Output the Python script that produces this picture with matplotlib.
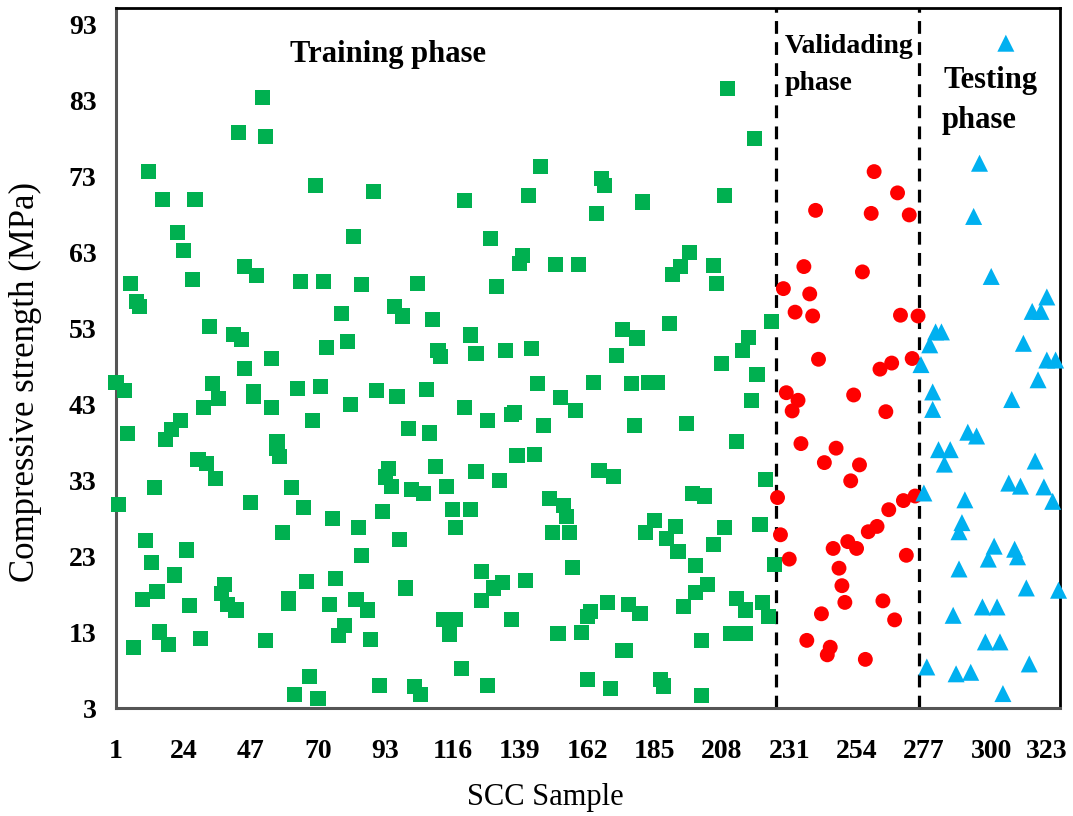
import matplotlib
matplotlib.use("Agg")
import matplotlib.pyplot as plt
import matplotlib.transforms as mtransforms

# ---------------- data ----------------
train_sample = [1, 2, 4, 5, 6, 7, 8, 9, 10, 11, 12, 13, 14, 15, 16,
                17, 18, 19, 20, 21, 22, 23, 24, 25, 26, 27, 28, 29, 30, 31,
                32, 33, 34, 35, 36, 37, 38, 39, 41, 42, 43, 44, 45, 45, 47,
                48, 48, 49, 51, 52, 52, 54, 54, 56, 56, 57, 58, 60, 60, 61,
                62, 63, 64, 65, 66, 67, 68, 69, 70, 71, 72, 73, 74, 75, 76,
                77, 78, 79, 80, 81, 82, 83, 84, 85, 85, 87, 88, 89, 90, 91,
                92, 93, 94, 95, 96, 97, 98, 99, 100, 101, 102, 103, 104, 105, 106,
                107, 108, 109, 110, 111, 112, 113, 114, 115, 116, 117, 117, 119, 120, 120,
                122, 122, 124, 124, 126, 126, 128, 128, 129, 130, 131, 132, 133, 134, 136,
                136, 137, 138, 139, 140, 141, 142, 143, 144, 145, 146, 147, 149, 150, 151,
                152, 153, 154, 155, 156, 157, 158, 159, 160, 162, 162, 163, 164, 165, 166,
                167, 168, 169, 170, 171, 172, 174, 174, 175, 176, 177, 178, 179, 180, 181,
                182, 183, 185, 186, 187, 188, 189, 190, 191, 192, 193, 194, 195, 196, 197,
                198, 199, 199, 201, 201, 202, 203, 205, 205, 206, 208, 209, 209, 210, 211,
                213, 213, 215, 216, 216, 217, 218, 219, 220, 221, 222, 223, 224, 225, 226]
train_strength = [45.9, 29.8, 44.8, 39.1, 58.9, 11.0, 56.5, 55.8, 17.3, 25.0, 73.6, 22.2, 32.0, 18.3, 13.0,
                  69.9, 38.3, 11.3, 39.6, 20.5, 65.6, 40.9, 63.2, 23.8, 16.5, 59.4, 69.9, 35.7, 12.2, 42.6,
                  35.2, 53.2, 45.7, 33.2, 43.7, 18.1, 19.3, 16.6, 52.2, 15.9, 78.7, 51.5, 61.1, 47.7, 30.1,
                  44.0, 44.6, 59.9, 83.3, 11.9, 78.2, 49.0, 42.6, 38.1, 37.2, 36.1, 26.1, 17.4, 16.8, 32.0,
                  4.8, 45.1, 59.1, 29.4, 19.6, 7.1, 40.8, 71.8, 4.3, 45.3, 59.1, 50.5, 16.6, 27.9, 20.0,
                  12.6, 54.9, 13.8, 51.2, 43.0, 65.0, 17.3, 26.7, 58.7, 23.1, 15.9, 12.0, 71.0, 44.8, 6.0,
                  28.9, 33.4, 34.5, 32.1, 55.9, 44.0, 25.2, 54.6, 18.8, 39.8, 31.7, 5.8, 58.9, 4.8, 31.2,
                  44.9, 39.2, 54.1, 34.8, 50.1, 49.3, 14.6, 32.2, 12.7, 29.1, 26.7, 14.6, 8.2, 42.5, 69.8,
                  52.1, 29.1, 34.1, 49.7, 17.1, 21.0, 40.8, 6.0, 64.8, 18.8, 58.5, 32.9, 19.5, 50.1, 41.6,
                  14.6, 41.9, 36.2, 61.5, 62.6, 19.8, 70.5, 50.3, 36.4, 45.7, 74.3, 40.2, 30.6, 26.1, 61.4,
                  12.8, 43.9, 29.6, 28.2, 26.1, 21.5, 42.2, 61.4, 12.9, 15.0, 6.8, 15.7, 45.9, 68.1, 34.3,
                  72.7, 71.8, 16.9, 5.6, 33.5, 49.4, 52.8, 10.6, 10.6, 16.6, 45.7, 40.2, 51.7, 15.4, 69.6,
                  26.1, 45.9, 27.7, 45.9, 6.8, 5.9, 25.3, 53.6, 60.0, 26.9, 23.6, 61.1, 16.4, 40.4, 63.0,
                  31.2, 21.7, 18.2, 11.9, 4.7, 30.9, 19.2, 61.2, 24.5, 58.9, 48.4, 70.5, 26.7, 84.5, 12.8,
                  38.1, 17.4, 50.1, 12.8, 15.9, 51.8, 43.5, 78.0, 46.9, 27.2, 16.9, 33.1, 15.0, 53.9, 21.9]

valid_sample = list(range(227, 276))
valid_strength = [30.7, 25.8, 58.2, 44.5, 22.6, 42.1, 55.1, 43.5, 37.8, 61.1,
                  11.9, 57.5, 54.6, 68.5, 48.9, 15.4, 35.3, 10.0, 11.0, 24.0,
                  37.2, 21.4, 19.1, 16.9, 24.9, 32.9, 44.2, 24.0, 35.0, 60.4,
                  9.4, 26.2, 68.1, 73.6, 26.9, 47.6, 17.1, 42.0, 29.1, 48.4,
                  14.6, 70.8, 54.7, 30.3, 23.1, 67.9, 49.0, 30.9, 54.6]

test_sample = [276, 277, 278, 279, 280, 280, 281, 282, 283, 284,
               286, 287, 288, 289, 289, 290, 291, 292, 293, 294,
               295, 296, 297, 298, 299, 300, 301, 302, 303, 304,
               305, 306, 307, 308, 309, 310, 311, 312, 313, 314,
               315, 316, 317, 318, 319, 319, 321, 322, 323]
test_strength = [48.2, 31.3, 8.4, 50.8, 44.6, 42.3, 52.5, 37.0, 52.5, 35.1,
                 37.0, 15.2, 7.5, 21.3, 26.2, 27.4, 30.4, 39.3, 7.7, 67.7,
                 38.8, 74.7, 16.3, 11.7, 22.6, 59.8, 24.3, 16.3, 11.7, 4.9,
                 90.5, 32.6, 43.6, 23.9, 22.9, 32.2, 51.0, 18.8, 8.8, 55.2,
                 35.5, 46.2, 55.2, 32.1, 57.1, 48.8, 30.2, 48.8, 18.5]

phase_bounds = [226.5, 275.5]
x_ticks = list(range(1, 324, 23))
y_ticks = list(range(3, 94, 10))

# ---------------- figure ----------------
W, H = 1073, 816
plt.rcParams["font.family"] = ["Liberation Serif", "DejaVu Serif"]
fig = plt.figure(figsize=(W / 100, H / 100), dpi=100)

def fx(px):
    return px / W

def fy(py):
    return 1 - py / H

L, R, T, B = 116, 1060, 7.5, 708
ax = fig.add_axes([fx(L), fy(B), (R - L) / W, (B - T) / H])
ax.set_xlim(1, 323.5)
ax.set_ylim(3, 95.2)

for xb in phase_bounds:
    ax.axvline(xb, color="black", lw=2.3, ls=(0, (4, 2.6)), zorder=1)

ax.scatter(train_sample, train_strength, marker="s", s=118, color="#00B050",
           edgecolors="none", zorder=3, clip_on=False)
ax.scatter(valid_sample, valid_strength, marker="o", s=115, color="#FF0000",
           edgecolors="none", zorder=3, clip_on=False)
ax.scatter(test_sample, test_strength, marker="^", s=150, color="#00B0F0",
           edgecolors="none", zorder=3, clip_on=False)

ax.set_xticks(x_ticks)
ax.set_yticks(y_ticks)
ax.tick_params(axis="both", length=0, labelsize=20)
ax.tick_params(axis="y", pad=14)
ax.tick_params(axis="x", pad=22)
for lab in ax.get_xticklabels() + ax.get_yticklabels():
    lab.set_fontweight("bold")
last = ax.get_xticklabels()[-1]
last.set_transform(last.get_transform() + mtransforms.ScaledTranslation(-12 / 100, 0, fig.dpi_scale_trans))

for side in ["top", "right"]:
    ax.spines[side].set_color("black")
    ax.spines[side].set_linewidth(2.0)
for side in ["left", "bottom"]:
    ax.spines[side].set_color("#555555")
    ax.spines[side].set_linewidth(2.2)

fig.text(fx(545), fy(797), "SCC Sample", fontsize=22, ha="center", va="center")
fig.text(fx(25), fy(382), "Compressive strength (MPa)", fontsize=25,
         rotation=90, ha="center", va="center")

bold = dict(fontweight="bold", va="baseline", ha="left")
fig.text(fx(290), fy(62), "Training phase", fontsize=22, **bold)
fig.text(fx(785), fy(53), "Validading", fontsize=20, **bold)
fig.text(fx(785), fy(90), "phase", fontsize=20, **bold)
fig.text(fx(944), fy(88), "Testing", fontsize=22, **bold)
fig.text(fx(942), fy(128), "phase", fontsize=22, **bold)

fig.savefig("out.png", dpi=100)
